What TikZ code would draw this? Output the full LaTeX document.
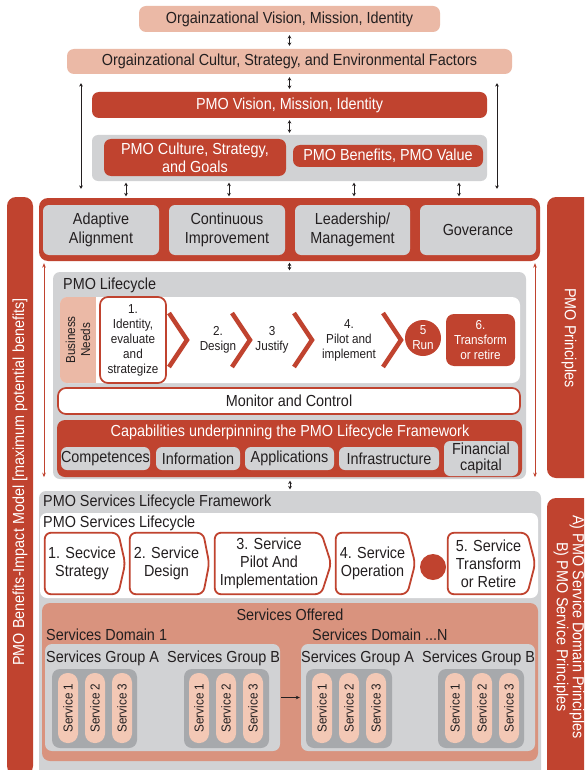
\documentclass[tikz,border=0pt]{standalone}
\usepackage{fontspec}
\setmainfont{Liberation Sans}[FakeStretch=0.9]
\usetikzlibrary{arrows.meta}

\definecolor{pmored}{HTML}{C0432F}
\definecolor{blush}{HTML}{EBB9A6}
\definecolor{pillfill}{HTML}{F3C8B5}
\definecolor{coral}{HTML}{D9937E}
\definecolor{panel}{HTML}{D1D2D4}
\definecolor{slate}{HTML}{A7A9AC}
\definecolor{ink}{HTML}{231F20}

\tikzset{
  every node/.style={font=\fontsize{16}{18}\selectfont, text=ink, inner sep=0pt, align=center},
  % a box given by two opposite corners (x1,y1) (x2,y2)
  area/.code args={(#1,#2) (#3,#4)}{%
    \pgfmathsetmacro\areacx{(#1+#3)/2}%
    \pgfmathsetmacro\areacy{(#2+#4)/2}%
    \pgfmathsetmacro\areaw{abs(#3-#1)}%
    \pgfmathsetmacro\areah{abs(#4-#2)}%
    \edef\areaset{\noexpand\tikzset{at={(\areacx,\areacy)},
      minimum width=\areaw pt, minimum height=\areah pt, inner sep=0pt}}%
    \areaset},
  blushbox/.style={fill=blush, rounded corners=7},
  redbox/.style={fill=pmored, rounded corners=7, text=white},
  panelbox/.style={fill=panel, rounded corners=6},
  slatebox/.style={fill=slate, rounded corners=8},
  coralbox/.style={fill=coral, rounded corners=8},
  whitebox/.style={fill=white, rounded corners=8},
  outlinebox/.style={fill=white, draw=pmored, line width=1.7pt, rounded corners=8},
  sidebar/.style={fill=pmored, rounded corners=9},
  sidetext/.style={text=white, font=\fontsize{16}{16}\selectfont},
  title/.style={anchor=base west},
  small/.style={font=\fontsize{13}{15}\selectfont},
  pillnode/.style={rotate=90, minimum width=70pt, minimum height=20pt, rounded corners=9.5,
    fill=pillfill, font=\fontsize{13}{13}\selectfont},
  dbl/.style={{Stealth[length=3.4pt,width=3.8pt]}-{Stealth[length=3.4pt,width=3.8pt]},
    line width=0.9pt, draw=ink, shorten <=#1, shorten >=#1},
  dbl/.default=3pt,
  reddbl/.style={{Stealth[length=4.5pt,width=3.6pt]}-{Stealth[length=4.5pt,width=3.6pt]},
    line width=0.7pt, draw=pmored},
  onearrow/.style={-{Stealth[length=4pt,width=3.6pt]}, line width=0.9pt, draw=ink,
    shorten <=1pt, shorten >=1pt},
  chev/.style={draw=pmored, line width=4.5pt},
  svcshape/.style={draw=pmored, line width=1.8pt, fill=white, rounded corners=6},
}

\begin{document}
\begin{tikzpicture}[x=1pt,y=-1pt]
\clip (0,0) rectangle (584,770);
\fill[white] (0,0) rectangle (584,770);

% ---------- organisational context ----------
\node[blushbox, area={(139,6) (440,32)}] (ovm) {Orgainzational Vision, Mission, Identity};
\node[blushbox, area={(67,49) (512,74)}] (ocs) {Orgainzational Cultur, Strategy, and Environmental Factors};
\node[redbox, area={(92,92) (487,118)}] (pvm) {PMO Vision, Mission, Identity};
\node[panelbox, area={(92,135) (487,181)}] (grp) {};
\node[redbox, area={(104,139) (286,176)}] (cul) {PMO Culture, Strategy,\\and Goals};
\node[redbox, area={(293,145) (483,167)}] (ben) {PMO Benefits, PMO Value};

% ---------- side bars ----------
\node[sidebar, area={(7,197) (33,775)}] (lbar) {};
\node[sidetext, rotate=90] (ltxt) at (20,482) {PMO Benefits-Impact Model [maximum potential benefits]};
\node[sidebar, area={(547,197) (600,478)}] (rbar1) {};
\node[sidetext, rotate=-90] (rtxt1) at (569,338) {PMO Principles};
\node[sidebar, area={(547,498) (600,790)}] (rbar2) {};
\node[sidetext, rotate=-90] (rtxt2) at (569,627) {A) PMO Service Domain Principles\\B) PMO Service Principles};

% ---------- principles frame ----------
\node[redbox, rounded corners=9, area={(39,198) (540,261)}] (frame) {};
\node[panelbox, area={(43,205) (159,255)}, font=\fontsize{16}{19}\selectfont] (pa) {Adaptive\\Alignment};
\node[panelbox, area={(169,205) (285,255)}, font=\fontsize{16}{19}\selectfont] (pb) {Continuous\\Improvement};
\node[panelbox, area={(295,205) (410,255)}, font=\fontsize{16}{19}\selectfont] (pc) {Leadership/\\Management};
\node[panelbox, area={(420,205) (536,255)}] (pd) {Goverance};

% ---------- PMO lifecycle ----------
\node[panelbox, rounded corners=7, area={(53,272) (526,479)}] (plc) {};
\node[title] (plct) at (63,289) {PMO Lifecycle};
\node[whitebox, area={(60,297) (520,383)}] (lane) {};
\begin{scope}
  \clip[rounded corners=8] (lane.north west) rectangle (lane.south east);
  \fill[blush] (lane.north west) rectangle (96,383);
\end{scope}
\node[small, rotate=90] (bn) at (78,340) {Business\\Needs};
\node[outlinebox, small, area={(100,297) (166,383)}] (st1) {1.\\Identity,\\evaluate\\and\\strategize};
\node[small] (st2) at (218,340) {2.\\Design};
\node[small] (st3) at (272,340) {3\\Justify};
\node[small] (st4) at (349,340) {4.\\Pilot and\\implement};
\node[small, circle, fill=pmored, text=white, minimum size=36pt] (st5) at (423,338) {5\\Run};
\node[redbox, small, rounded corners=8, area={(446,314) (515,366)}] (st6) {6.\\Transform\\or retire};
\draw[chev] (169,313) -- (187,340) -- (169,367);
\draw[chev] (232,313) -- (250,340) -- (232,367);
\draw[chev] (294,313) -- (312,340) -- (294,367);
\draw[chev] (383,313) -- (401,340) -- (383,367);

\node[outlinebox, area={(58,388) (520,414)}] (mon) {Monitor and Control};
\node[redbox, rounded corners=8, area={(57,420) (522,477)}] (capb) {};
\node[text=white] (capt) at (290,432) {Capabilities underpinning the PMO Lifecycle Framework};
\node[panelbox, area={(61,447) (150,470)}] (c1) {Competences};
\node[panelbox, area={(156,447) (240,470)}] (c2) {Information};
\node[panelbox, area={(245,447) (334,470)}] (c3) {Applications};
\node[panelbox, area={(339,447) (439,470)}] (c4) {Infrastructure};
\node[panelbox, area={(444,441) (518,476)}, font=\fontsize{16}{16}\selectfont] (c5) {Financial\\capital};

% ---------- PMO services lifecycle framework ----------
\node[panelbox, rounded corners=7, area={(39,491) (541,790)}] (svf) {};
\node[title] (svft) at (43,506) {PMO Services Lifecycle Framework};
\node[whitebox, rounded corners=7, area={(40,513) (538,598)}] (svl) {};
\node[title] (svlt) at (43,527) {PMO Services Lifecycle};

\node[area={(45,533) (125,594)}] (s1) {};
\node[area={(130,533) (209,594)}] (s2) {};
\node[area={(215,533) (331,594)}] (s3) {};
\node[area={(336,533) (415,594)}] (s4) {};
\node[area={(448,533) (535,594)}] (s5) {};
\foreach \s/\d in {s1/7,s2/6,s3/10,s4/8,s5/8}{
  \draw[svcshape] (\s.west) -- (\s.north west) -- ([xshift=-\d pt]\s.north east)
    -- (\s.east) -- ([xshift=-\d pt]\s.south east) -- (\s.south west) -- cycle;
}
\node (s1t) at ([xshift=-3pt]s1.center) {1. Secvice\\Strategy};
\node (s2t) at ([xshift=-3pt]s2.center) {2. Service\\Design};
\node (s3t) at ([xshift=-4pt]s3.center) {3. Service\\Pilot And\\Implementation};
\node (s4t) at ([xshift=-3pt]s4.center) {4. Service\\Operation};
\node[circle, fill=pmored, minimum size=26pt] (sdot) at (433,567) {};
\node (s5t) at ([xshift=-3pt]s5.center) {5. Service\\Transform\\or Retire};

% ---------- services offered ----------
\node[coralbox, area={(42,603) (538,761)}] (off) {};
\node[anchor=base] (offt) at (290,620) {Services Offered};
\node[title] (d1t) at (46,640) {Services Domain 1};
\node[title] (dnt) at (312,640) {Services Domain ...N};
\node[panelbox, rounded corners=7, area={(45,644) (280,751)}] (d1) {};
\node[panelbox, rounded corners=7, area={(301,644) (535,751)}] (dn) {};
\node[title] (g1at) at (46,662) {Services Group A};
\node[title] (g1bt) at (167,662) {Services Group B};
\node[title] (gnat) at (301,662) {Services Group A};
\node[title] (gnbt) at (422,662) {Services Group B};
\node[slatebox, area={(52,669) (137,748)}] (g1a) {};
\node[slatebox, area={(184,669) (269,748)}] (g1b) {};
\node[slatebox, area={(306,669) (392,748)}] (gna) {};
\node[slatebox, area={(438,669) (524,748)}] (gnb) {};
\foreach \g/\xa in {a/68,b/199,c/322,d/455}{
  \foreach \k in {1,2,3}{
    \node[pillnode] (sv\g\k) at ({\xa+27*(\k-1)},708) {Service \k};
  }
}

% ---------- connectors ----------
\draw[dbl] (ovm.south) -- (ocs.north);
\draw[dbl] (ocs.south) -- (pvm.north);
\draw[dbl=2pt] (pvm.south) -- (grp.north);
\draw[dbl=9pt] (81,0 |- ocs.south) -- (81,0 |- frame.north);
\draw[dbl=9pt] (497,0 |- ocs.south) -- (497,0 |- frame.north);
\foreach \ax in {126,229,354,459}
  \draw[dbl=1.5pt] (\ax,0 |- grp.south) -- (\ax,0 |- frame.north);
\draw[dbl=1.5pt] (frame.south) -- (frame.south |- plc.north);
\draw[reddbl, shorten <=2pt, shorten >=2pt] (44,0 |- frame.south) -- (44,0 |- plc.south);
\draw[reddbl, shorten <=2pt, shorten >=2pt] (535,0 |- frame.south) -- (535,0 |- plc.south);
\draw[dbl=1.5pt] (290,0 |- plc.south) -- (290,0 |- svf.north);
\draw[onearrow] (d1.east) -- (dn.west);

\end{tikzpicture}
\end{document}
